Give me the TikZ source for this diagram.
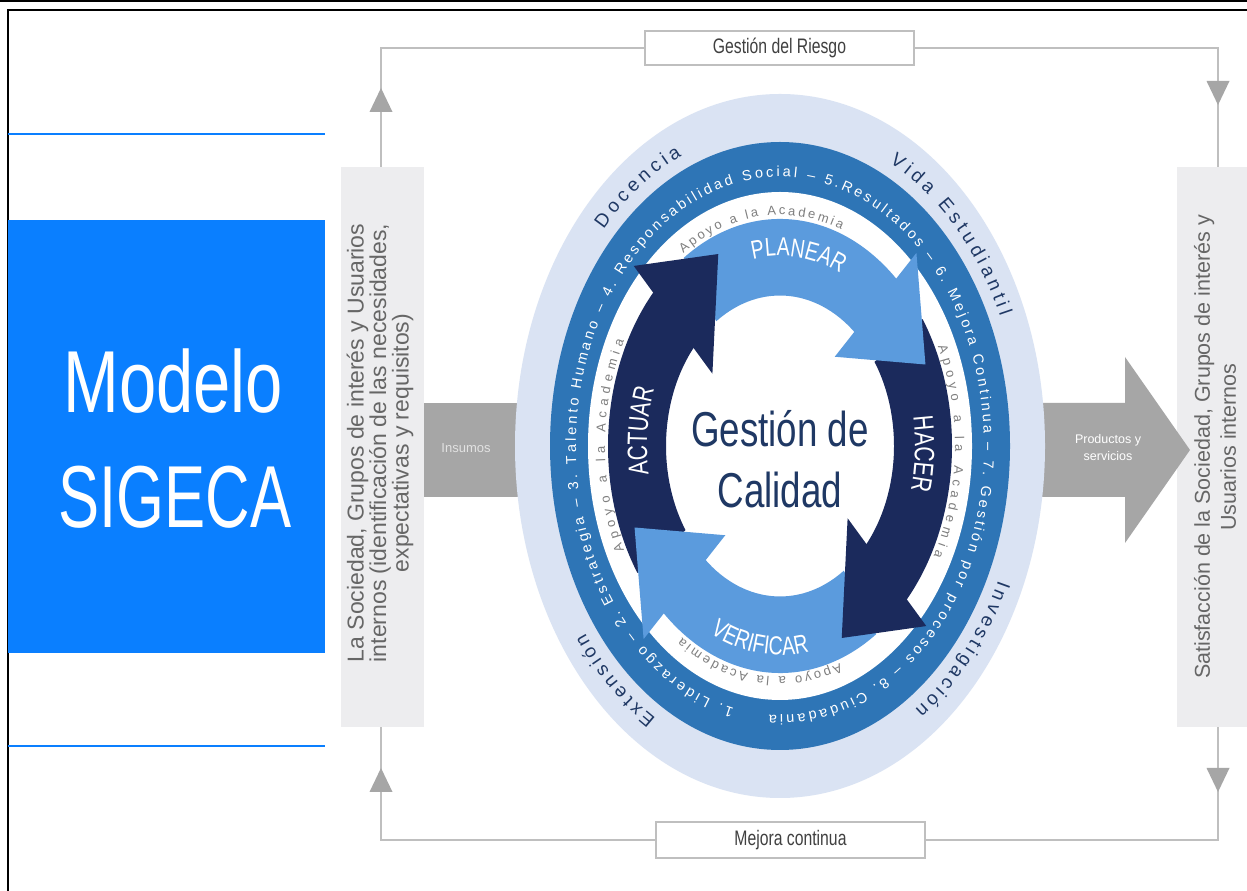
\documentclass[tikz,border=0pt]{standalone}
\usepackage{fontspec}
\usepackage{graphicx}
\setmainfont{Liberation Sans}
\newfontfamily\narrowfont[FakeStretch=0.75]{Liberation Sans}
\usetikzlibrary{decorations.text}
\definecolor{blueblock}{HTML}{0A7FFF}
\definecolor{lightring}{HTML}{DAE3F3}
\definecolor{midring}{HTML}{2E75B6}
\definecolor{arrowlight}{HTML}{5B9BDD}
\definecolor{arrownavy}{HTML}{1B2A5C}
\definecolor{navytext}{HTML}{1F3864}
\definecolor{boxgrey}{HTML}{EDEDEF}
\definecolor{fatgrey}{HTML}{A6A6A6}
\definecolor{linegrey}{HTML}{BFBFBF}
\definecolor{textgrey}{HTML}{666666}
\definecolor{textdark}{HTML}{404040}
\definecolor{ringgrey}{HTML}{7F7F7F}
\definecolor{insumostext}{HTML}{E2E2E2}
\begin{document}
\begin{tikzpicture}[x=1pt,y=1pt,
  greyline/.style={draw=linegrey, line width=1.6pt},
  labelbox/.style={draw=linegrey, line width=1.3pt, fill=white, minimum width=269pt, minimum height=34pt, inner sep=0pt, font=\narrowfont\fontsize{21}{21}\selectfont, text=textdark},
  sidebox/.style={fill=boxgrey, minimum height=560pt, inner sep=0pt},
  sidetext/.style={rotate=90, align=center, text=textgrey, inner sep=0pt},
  marktri/.style={fill=fatgrey},
  fitword/.style={decorate, decoration={text along path, text align={fit to path}, text color=#1}},
  midword/.style={decorate, decoration={text along path, text align=center, text color=#1}}
]
\useasboundingbox (0,0) rectangle (1247,891);
\fill[white] (0,0) rectangle (1247,891);

% frame
\draw[black, line width=2pt] (0,890) -- (1247,890);
\draw[black, line width=2pt] (7.5,0) -- (7.5,880.5) -- (1247,880.5);

% left panel
\draw[blueblock, line width=2pt] (7.5,757) -- (325,757);
\draw[blueblock, line width=2pt] (7.5,145) -- (325,145);
\node[fill=blueblock, inner sep=0pt, minimum width=317.5pt, minimum height=433pt, anchor=south west] (panel) at (7.5,238) {};
\node[text=white, font=\fontsize{88}{88}\selectfont, anchor=base, inner sep=0pt] (modelo) at (173,478) {\scalebox{0.76}[1]{Modelo}};
\node[text=white, font=\fontsize{88}{88}\selectfont, anchor=base, inner sep=0pt] (sigeca) at (175,363) {\scalebox{0.70}[1]{SIGECA}};

% side boxes
\node[sidebox, minimum width=83pt] (lbox) at (382.5,444) {};
\node[sidebox, minimum width=70pt] (rbox) at (1212,444) {};
\node[sidetext, font=\fontsize{23}{22.5}\selectfont] (ltext) at (380,448) {La Sociedad, Grupos de interés y Usuarios\\internos (identificación de las necesidades,\\expectativas y requisitos)};
\node[sidetext, font=\fontsize{21.5}{26}\selectfont] (rtext) at (1215,444) {Satisfacción de la Sociedad, Grupos de interés y\\Usuarios internos};

% feedback loop
\node[labelbox] (riesgo) at (779.5,843) {Gestión del Riesgo};
\node[labelbox, minimum height=36pt] (mejora) at (790.5,51) {Mejora continua};
\draw[greyline] ([xshift=-1.5pt]lbox.north) |- (riesgo.west);
\draw[greyline] (riesgo.east) -| ([xshift=6pt]rbox.north);
\draw[greyline] ([xshift=-1.5pt]lbox.south) |- (mejora.west);
\draw[greyline] (mejora.east) -| ([xshift=6pt]rbox.south);
\fill[marktri] (369.5,779) -- (392.5,779) -- (381,803) -- cycle;
\fill[marktri] (1206.5,810) -- (1229.5,810) -- (1218,786) -- cycle;
\fill[marktri] (369.5,99) -- (392.5,99) -- (381,123) -- cycle;
\fill[marktri] (1206.5,123) -- (1229.5,123) -- (1218,99) -- cycle;

% big grey arrows
\node[fill=fatgrey, inner sep=0pt, minimum width=116pt, minimum height=94pt, anchor=west] (insumos) at (424,441) {};
\node[text=insumostext, font=\fontsize{13}{13}\selectfont] (inslabel) at (466,443) {Insumos};
\fill[fatgrey] (1030,394) -- (1125,394) -- (1125,348) -- (1190,441) -- (1125,534) -- (1125,488) -- (1030,488) -- cycle;
\node[text=white, align=center, font=\fontsize{12.5}{17}\selectfont] (prodlabel) at (1108,443) {Productos y\\servicios};

% rings
\fill[lightring] (780,445) ellipse [x radius=265, y radius=352];
\fill[midring] (780,445) ellipse [x radius=230, y radius=304];
\fill[white] (780,445) ellipse [x radius=192, y radius=254];

% cycle arrows
\begin{scope}[shift={(780,445)}, yscale=1.32]
\foreach \B/\col in {49/arrowlight,-41/arrownavy,-131/arrowlight,139/arrownavy}{
  \pgfmathsetmacro\T{\B+75}
  \pgfmathsetmacro\E{\B-3}
  \fill[\col] (\T:172) arc[start angle=\T, end angle=\E, radius=172] -- (\E:114) arc[start angle=\E, end angle=\T, radius=114] -- cycle;
}
\foreach \B/\col in {49/arrowlight,-41/arrownavy,-131/arrowlight,139/arrownavy}{
  \pgfmathsetmacro\Bo{\B-2}
  \pgfmathsetmacro\Bi{\B+2}
  \pgfmathsetmacro\Tp{\B-26}
  \fill[\col] (\Bo:200) -- (\Tp:158) -- (\Bi:87) -- cycle;
}
\end{scope}

% centre
\node[text=navytext, font=\narrowfont\fontsize{49}{49}\selectfont, anchor=base, inner sep=0pt] (gc1) at (780,444) {Gestión de};
\node[text=navytext, font=\narrowfont\fontsize{49}{49}\selectfont, anchor=base, inner sep=0pt] (gc2) at (780,383) {Calidad};

% texts along rings
\begin{scope}[shift={(780,445)}]
\path[fitword=navytext, decoration={text={|\fontsize{19}{19}\selectfont|Docencia}}] (137:241 and 318) arc[start angle=137, end angle=114, x radius=241, y radius=318];
\path[fitword=navytext, decoration={text={|\fontsize{19}{19}\selectfont|Vida Estudiantil}}] (63:241 and 318) arc[start angle=63, end angle=24, x radius=241, y radius=318];
\path[fitword=navytext, decoration={text={|\fontsize{19}{19}\selectfont|Investigación}}] (-25:241 and 318) arc[start angle=-25, end angle=-56, x radius=241, y radius=318];
\path[fitword=navytext, decoration={text={|\fontsize{19}{19}\selectfont|Extensión}}] (239:241 and 318) arc[start angle=239, end angle=216, x radius=241, y radius=318];

\path[fitword=white, decoration={text={|\fontsize{14.5}{14.5}\selectfont|1. Liderazgo – 2. Estrategia – 3. Talento Humano – 4. Responsabilidad Social – 5.Resultados – 6. Mejora Continua – 7. Gestión por procesos – 8. Ciudadania}}] (257:204 and 269) arc[start angle=257, end angle=-93, x radius=204, y radius=269];

\foreach \m in {96.5,-1.5,-97,180}{
  \pgfmathsetmacro\sa{\m+27}
  \pgfmathsetmacro\ea{\m-27}
  \path[fitword=ringgrey, decoration={text={|\fontsize{13}{13}\selectfont|Apoyo a la Academia}}] (\sa:175 and 231) arc[start angle=\sa, end angle=\ea, x radius=175, y radius=231];
}

\path[midword=white, decoration={text={|\narrowfont\fontsize{26}{26}\selectfont|PLANEAR}}] (118:144 and 190) arc[start angle=118, end angle=49, x radius=144, y radius=190];
\path[midword=white, decoration={text={|\narrowfont\fontsize{28}{28}\selectfont|HACER}}] (25:135 and 178) arc[start angle=25, end angle=-30.2, x radius=135, y radius=178];
\path[midword=white, decoration={text={|\narrowfont\fontsize{26}{26}\selectfont|VERIFICAR}}] (-140:158 and 209) arc[start angle=-140, end angle=-54, x radius=158, y radius=209];
\path[midword=white, decoration={text={|\narrowfont\fontsize{28}{28}\selectfont|ACTUAR}}] (205:133 and 176) arc[start angle=205, end angle=145, x radius=133, y radius=176];
\end{scope}
\end{tikzpicture}
\end{document}
